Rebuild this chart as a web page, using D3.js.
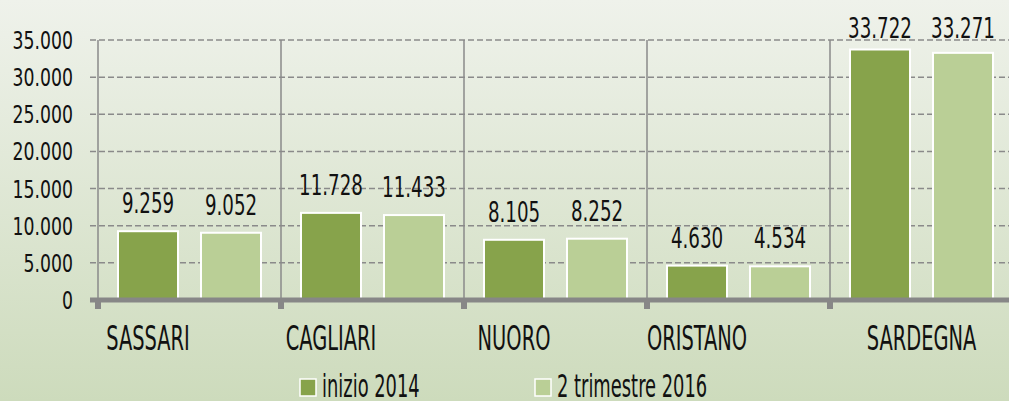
<!DOCTYPE html>
<html>
<head>
<meta charset="utf-8">
<script src="https://cdn.jsdelivr.net/npm/d3@7"></script>
<style>
  body { margin: 0; overflow: hidden; }
  svg { display: block; }
  text { font-family: "Liberation Sans Narrow", "DejaVu Sans Condensed", sans-serif; fill: #111; }
</style>
</head>
<body>
<svg width="1009" height="401"></svg>
<script>
const categories = ["SASSARI", "CAGLIARI", "NUORO", "ORISTANO", "SARDEGNA"];
const series = ["inizio 2014", "2 trimestre 2016"];
const inizio2014 = [9259, 11728, 8105, 4630, 33722];
const trimestre2016 = [9052, 11433, 8252, 4534, 33271];
const yTicks = [0, 5000, 10000, 15000, 20000, 25000, 30000, 35000];
const colors = ["#87a34b", "#bacf96"];

const svg = d3.select("svg");
const width = parseInt(svg.attr("width"));
const height = parseInt(svg.attr("height"));

const data = categories.map((c, i) => ({
  cat: c,
  values: [inizio2014[i], trimestre2016[i]]
}));

// background
const defs = svg.append("defs");
const bg = defs.append("linearGradient").attr("id", "bg")
  .attr("x1", 0).attr("y1", 0).attr("x2", 0).attr("y2", 1);
bg.append("stop").attr("offset", "0%").attr("stop-color", "#eff2eb");
bg.append("stop").attr("offset", "100%").attr("stop-color", "#cddbbc");
svg.append("rect").attr("width", width).attr("height", height).attr("fill", "url(#bg)");

const x0 = d3.scaleBand().domain(categories).range([98, 98 + 183 * 5]).padding(0);
const x1 = d3.scaleBand().domain(d3.range(series.length))
  .range([0, x0.bandwidth()]).paddingInner(0.277).paddingOuter(0.241);
const y = d3.scaleLinear().domain([0, 35000]).range([300, 40]);

const fmt = d3.formatLocale({ decimal: ",", thousands: ".", grouping: [3], currency: ["", "€"] }).format(",");

// horizontal dashed grid
svg.append("g").selectAll("line").data(yTicks.filter(t => t > 0)).join("line")
  .attr("x1", 90).attr("x2", width)
  .attr("y1", d => y(d)).attr("y2", d => y(d))
  .attr("stroke", "#8a8a8a").attr("stroke-width", 1.5)
  .attr("stroke-dasharray", "6,3");

// vertical separators
const bounds = categories.map(c => x0(c)).concat([x0.range()[1]]);
svg.append("g").selectAll("line").data(bounds).join("line")
  .attr("x1", d => d).attr("x2", d => d)
  .attr("y1", y(35000)).attr("y2", y(0))
  .attr("stroke", "#8a8a8a").attr("stroke-width", 1.5);

// y tick labels
svg.append("g").selectAll("text").data(yTicks).join("text")
  .attr("text-anchor", "end")
  .attr("font-size", 24)
  .attr("transform", d => `translate(73,${y(d) + 9}) scale(0.8,1.03)`)
  .text(d => fmt(d));

// bars
const groups = svg.append("g").selectAll("g").data(data).join("g")
  .attr("transform", d => `translate(${x0(d.cat)},0)`);

groups.selectAll("rect").data(d => d.values).join("rect")
  .attr("x", (d, i) => x1(i))
  .attr("width", x1.bandwidth())
  .attr("y", d => y(d))
  .attr("height", d => y(0) - y(d))
  .attr("fill", (d, i) => colors[i])
  .attr("stroke", "#ffffff").attr("stroke-width", 2);

groups.selectAll("text").data(d => d.values).join("text")
  .attr("text-anchor", "middle")
  .attr("font-size", 26)
  .attr("transform", (d, i) => `translate(${x1(i) + x1.bandwidth() / 2},${Math.max(y(d) - 18, 38)}) scale(0.78,1.1)`)
  .text(d => fmt(d));

// x axis bar + ticks
svg.append("rect").attr("x", 90).attr("y", y(0) - 2.5)
  .attr("width", width - 90).attr("height", 5).attr("fill", "#878787");
svg.append("g").selectAll("rect").data(bounds).join("rect")
  .attr("x", d => d - 3).attr("y", y(0) + 2).attr("width", 6).attr("height", 7)
  .attr("fill", "#878787");

// category labels
const isTotal = c => c === "SARDEGNA";
svg.append("g").selectAll("text").data(categories).join("text")
  .attr("text-anchor", "middle")
  .attr("font-size", 30)
  .attr("transform", c => {
    const cx = isTotal(c) ? x0(c) + x0.bandwidth() / 2 : x0(c) + x1(0) + x1.bandwidth() / 2;
    return `translate(${cx},350) scale(0.72,1.14)`;
  })
  .text(c => c);

// legend
const legendX = [300, 535];
const legend = svg.append("g").selectAll("g").data(series).join("g")
  .attr("transform", (d, i) => `translate(${legendX[i]},379)`);
legend.append("rect")
  .attr("width", 16).attr("height", 17)
  .attr("fill", (d, i) => colors[i])
  .attr("stroke", "#ffffff").attr("stroke-width", 1.5);
legend.append("text")
  .attr("font-size", 28)
  .attr("transform", "translate(22,18) scale(0.71,1.12)")
  .text(d => d);
</script>
</body>
</html>
